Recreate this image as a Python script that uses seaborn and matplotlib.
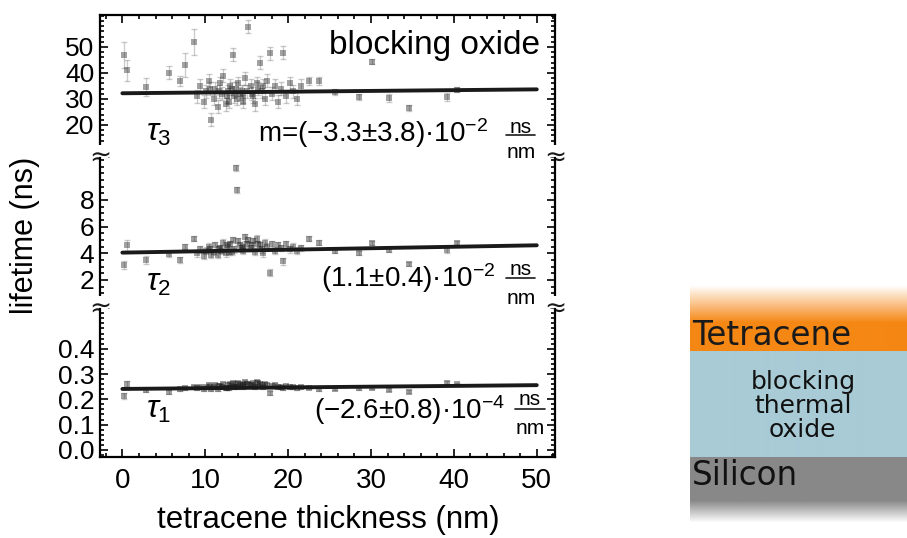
import numpy as np
import pandas as pd
import matplotlib
matplotlib.use('Agg')
import matplotlib.pyplot as plt
from matplotlib.ticker import MultipleLocator
import seaborn as sns

# thin and thick films (few samples)
sparse_x = [0.2, 0.5, 2.8, 5.6, 7.0, 7.6, 8.7, 22.5, 23.7, 25.7, 28.5, 30.1, 32.2, 34.6, 39.2, 40.4]
sparse_t3 = [47, 41, 34.6, 40, 37, 43, 52, 37, 37, 32.7, 30.8, 44.3, 30.4, 26.5, 30.8, 33.5]
sparse_e3 = [5, 4, 3.5, 2.5, 2, 4.5, 5, 1.5, 1.5, 1, 1, 1, 1.5, 1, 1.5, 1]
sparse_t2 = [3.1, 4.6, 3.5, 3.95, 3.5, 4.5, 5.1, 5.1, 4.8, 4.2, 4.05, 4.8, 4.25, 3.2, 4.25, 4.8]
sparse_e2 = [0.3, 0.4, 0.3, 0.2, 0.2, 0.2, 0.2, 0.2, 0.2, 0.15, 0.15, 0.15, 0.15, 0.15, 0.2, 0.15]
sparse_t1 = [0.213, 0.262, 0.237, 0.23, 0.24, 0.245, 0.25, 0.245, 0.24, 0.241, 0.243, 0.245, 0.238, 0.23, 0.265, 0.26]
sparse_e1 = [0.012, 0.012, 0.008, 0.008, 0.008, 0.008, 0.008, 0.006, 0.006, 0.006, 0.006, 0.006, 0.006, 0.006, 0.006, 0.006]

# dense region of samples (8-22 nm)
cluster_x = [9.0, 9.4, 9.8, 10.1, 10.4, 10.7, 11.0, 11.2, 11.5, 11.8, 12.0, 12.2, 12.5, 12.8,
             13.0, 13.3, 13.5, 13.7, 13.8, 14.0, 14.2, 14.5, 14.8, 15.0, 15.2, 15.5, 15.8, 16.0,
             16.3, 16.6, 16.9, 17.2, 17.5, 17.8, 18.1, 18.4, 18.8, 19.1, 19.4, 19.8, 20.2, 20.6,
             21.1, 21.6, 11.6, 12.6, 13.2, 14.4, 15.6, 10.6, 12.9, 14.6, 16.4, 17.0]
cluster_t3 = [31, 35, 29, 33, 37, 22, 30, 34, 27, 36, 32, 39, 28, 33,
              35, 47, 31, 34, 30, 36, 32, 29, 38, 33, 57.8, 35, 31, 28,
              36, 44, 33, 30, 37, 47.6, 32, 35, 29, 34, 47.7, 31, 36, 33,
              30, 35, 33, 31, 34, 33, 32, 34, 29, 31, 34, 35]
cluster_t2 = [4.0, 4.3, 3.8, 4.2, 4.5, 3.9, 4.1, 4.6, 3.9, 4.4, 4.2, 4.8, 4.0, 4.5,
              4.7, 5.0, 4.3, 10.4, 8.75, 4.9, 4.6, 4.2, 5.2, 4.7, 5.0, 4.4, 4.9, 4.1,
              5.1, 4.6, 4.3, 4.8, 4.5, 2.55, 4.7, 4.2, 4.6, 4.4, 3.4, 4.7, 4.3, 4.5,
              4.2, 4.4, 4.3, 4.6, 4.1, 4.4, 4.6, 4.3, 4.1, 4.5, 4.7, 4.0]
cluster_t1 = [0.245, 0.25, 0.24, 0.248, 0.255, 0.24, 0.25, 0.258, 0.242, 0.252, 0.25, 0.262, 0.245, 0.256,
              0.26, 0.265, 0.25, 0.262, 0.248, 0.264, 0.258, 0.25, 0.268, 0.26, 0.262, 0.255, 0.265, 0.248,
              0.27, 0.26, 0.255, 0.262, 0.258, 0.225, 0.252, 0.256, 0.248, 0.25, 0.245, 0.252, 0.248, 0.25,
              0.246, 0.248, 0.252, 0.246, 0.254, 0.26, 0.258, 0.247, 0.243, 0.257, 0.263, 0.25]
cluster_err = [2.5, 0.25, 0.008]

# linear fits (value at 0 nm and at 50 nm)
fit_x = [0, 50]
fit_tau3 = [32.2, 33.7]
fit_tau2 = [4.05, 4.6]
fit_tau1 = [0.241, 0.256]

slope_texts = ['m=(\u22123.3\u00b13.8)\u00b710$^{\u22122}$', '(1.1\u00b10.4)\u00b710$^{\u22122}$',
               '(\u22122.6\u00b10.8)\u00b710$^{\u22124}$']

sns.set_theme(style='ticks')
plt.rcParams['font.family'] = ['Liberation Sans', 'DejaVu Sans']
plt.rcParams['mathtext.fontset'] = 'custom'
plt.rcParams['mathtext.rm'] = 'Liberation Sans'
plt.rcParams['mathtext.it'] = 'Liberation Sans:italic'
for key in ['text.color', 'axes.labelcolor', 'xtick.color', 'ytick.color', 'axes.edgecolor']:
    plt.rcParams[key] = 'black'

W, H = 907, 538
fig = plt.figure(figsize=(W / 100, H / 100), dpi=100)


def frac_box(x0, x1, top, bottom):
    return [x0 / W, 1 - bottom / H, (x1 - x0) / W, (bottom - top) / H]


ax3 = fig.add_axes(frac_box(100, 555, 15, 158))
ax2 = fig.add_axes(frac_box(100, 555, 158, 309))
ax1 = fig.add_axes(frac_box(100, 555, 309, 457))

panels = [
    (ax3, sparse_t3, sparse_e3, cluster_t3, cluster_err[0], fit_tau3, (7.3, 62.3), 2, [20, 30, 40, 50], '%d'),
    (ax2, sparse_t2, sparse_e2, cluster_t2, cluster_err[1], fit_tau2, (-0.18, 11.15), 0.5, [2, 4, 6, 8], '%d'),
    (ax1, sparse_t1, sparse_e1, cluster_t1, cluster_err[2], fit_tau1, (-0.028, 0.557), 0.02, [0, 0.1, 0.2, 0.3, 0.4], '%.1f'),
]

for ax, st, se, ct, ce, fit, ylim, minor, yt, fmt in panels:
    df = pd.DataFrame({
        'thickness': sparse_x + cluster_x,
        'lifetime': st + ct,
        'err': se + [ce] * len(cluster_x),
    })
    ax.errorbar(df['thickness'], df['lifetime'], yerr=df['err'], fmt='none', ecolor='k',
                alpha=0.22, capsize=2.5, elinewidth=1, capthick=1)
    sns.scatterplot(data=df, x='thickness', y='lifetime', marker='s', s=18, color='k',
                    alpha=0.4, linewidth=0, ax=ax)
    sns.lineplot(x=fit_x, y=fit, color='k', lw=2.8, ax=ax)
    ax.set_xlim(-2.7, 52.2)
    ax.set_ylim(*ylim)
    ax.set_xlabel('')
    ax.set_ylabel('')
    ax.xaxis.set_major_locator(MultipleLocator(10))
    ax.xaxis.set_minor_locator(MultipleLocator(2))
    ax.set_yticks(yt)
    ax.set_yticklabels([fmt % v for v in yt])
    ax.yaxis.set_minor_locator(MultipleLocator(minor))
    for s in ax.spines.values():
        s.set_linewidth(1.6)
    ax.tick_params(which='both', direction='in', left=True, right=True, width=1.2,
                   labelsize=19, pad=4)
    ax.tick_params(which='major', length=6)
    ax.tick_params(which='minor', length=3)

ax3.spines['bottom'].set_visible(False)
ax2.spines['top'].set_visible(False)
ax2.spines['bottom'].set_visible(False)
ax1.spines['top'].set_visible(False)
ax3.tick_params(which='both', top=True, bottom=False, labelbottom=False)
ax2.tick_params(which='both', top=False, bottom=False, labelbottom=False)
ax1.tick_params(which='both', top=False, bottom=True)
ax1.tick_params(axis='x', labelsize=20, pad=8)

# axis break marks
for ax in (ax3, ax2):
    for xa in (0, 1):
        ax.text(xa, 0, '\u2248', transform=ax.transAxes, ha='center', va='center',
                fontsize=19, family='DejaVu Sans', color='k', clip_on=False, zorder=5,
                bbox=dict(facecolor='white', edgecolor='none', pad=0))

# panel annotations
ax3.text(0.967, 0.79, 'blocking oxide', transform=ax3.transAxes, ha='right', va='center', fontsize=24)
tau_pos = [(ax3, '$\\tau_3$', 0.175), (ax2, '$\\tau_2$', 0.17), (ax1, '$\\tau_1$', 0.32)]
for ax, lab, yy in tau_pos:
    ax.text(0.1, yy, lab, transform=ax.transAxes, ha='left', va='center', fontsize=23)

slope_pos = [(ax3, 0.853, 0.175, 0.925, 0.215, 0.16, 0.035),
             (ax2, 0.87, 0.205, 0.925, 0.262, 0.205, 0.07),
             (ax1, 0.89, 0.318, 0.945, 0.39, 0.326, 0.19)]
for (ax, xr, yc, xf, yn, yl, yd), txt in zip(slope_pos, slope_texts):
    ax.text(xr, yc, txt, transform=ax.transAxes, ha='right', va='center', fontsize=20)
    ax.text(xf, yn, 'ns', transform=ax.transAxes, ha='center', va='center', fontsize=15)
    ax.text(xf, yd, 'nm', transform=ax.transAxes, ha='center', va='center', fontsize=15)
    ax.plot([xf - 0.032, xf + 0.032], [yl, yl], transform=ax.transAxes, color='k', lw=1.2)

fig.text(25 / W, 1 - 235 / H, 'lifetime (ns)', rotation=90, ha='center', va='center', fontsize=22)
fig.text(328 / W, 1 - 520 / H, 'tetracene thickness (nm)', ha='center', va='center', fontsize=22.5)

# layer stack sketch
axd = fig.add_axes(frac_box(690, 907, 278, 528))
rows = np.arange(278, 528)
orange = np.array([245, 135, 20]) / 255
blue = np.array([168, 203, 214]) / 255
grey = np.array([136, 136, 136]) / 255
img = np.ones((len(rows), 1, 3))
a_top = np.interp(rows, [285, 322], [0, 1])
a_bot = np.interp(rows, [500, 522], [1, 0])
for i, r in enumerate(rows):
    if r < 351:
        c, a = orange, a_top[i]
    elif r < 457:
        c, a = blue, 1
    else:
        c, a = grey, a_bot[i]
    img[i, 0] = a * c + (1 - a) * 1
axd.imshow(img, aspect='auto', extent=(0, 1, 528, 278), interpolation='bilinear')
axd.set_xlim(0, 1)
axd.set_ylim(528, 278)
axd.axis('off')
axd.text(0.01, 336, 'Tetracene', ha='left', va='center', fontsize=23.5, family='DejaVu Sans', color='k')
axd.text(0.52, 406, 'blocking\nthermal\noxide', ha='center', va='center', fontsize=18,
         family='DejaVu Sans', linespacing=1.0, color='#111111')
axd.text(0.01, 476, 'Silicon', ha='left', va='center', fontsize=23.5, family='DejaVu Sans', color='#111111')

fig.savefig('out.png', dpi=100)
